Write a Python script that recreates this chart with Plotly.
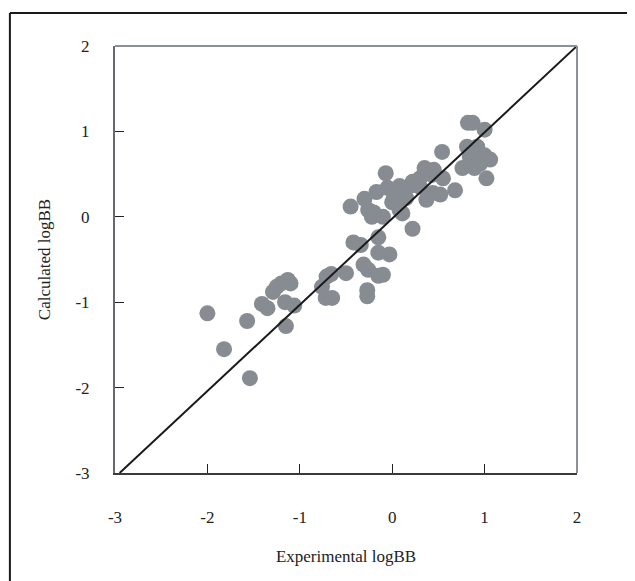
import plotly.graph_objects as go

# Experimental vs calculated logBB
exp_logbb = [
    -2.00, -1.82, -1.57, -1.54, -1.41, -1.35, -1.29, -1.25, -1.20, -1.13,
    -1.10, -1.16, -1.06, -1.15, -0.76, -0.71, -0.66, -0.50, -0.72, -0.65,
    -0.31, -0.26, -0.27, -0.27, -0.15, -0.10, -0.15, -0.03, -0.42, -0.34,
    -0.15, 0.22, -0.45, -0.30, -0.17, -0.05, 0.08, -0.07, -0.26, -0.22,
    -0.10, 0.00, 0.08, 0.11, 0.10, 0.22, 0.22, 0.30, 0.37, 0.44,
    0.52, 0.35, 0.43, 0.54, 0.68, 0.76, 0.89, 0.84, 0.81, 0.92,
    1.00, 1.06, 1.02, 0.82, 0.87, 1.00, -0.20, 0.02, 0.15, 0.45,
    0.30, 0.95, 0.85, 0.55,
]
calc_logbb = [
    -1.13, -1.55, -1.22, -1.89, -1.02, -1.07, -0.88, -0.82, -0.78, -0.74,
    -0.78, -1.00, -1.04, -1.28, -0.82, -0.70, -0.67, -0.66, -0.95, -0.95,
    -0.56, -0.62, -0.86, -0.93, -0.69, -0.68, -0.42, -0.44, -0.30, -0.33,
    -0.24, -0.14, 0.12, 0.21, 0.29, 0.34, 0.36, 0.51, 0.08, 0.00,
    0.00, 0.17, 0.08, 0.04, 0.30, 0.37, 0.41, 0.35, 0.20, 0.28,
    0.26, 0.57, 0.49, 0.76, 0.31, 0.57, 0.57, 0.70, 0.82, 0.82,
    0.72, 0.67, 0.45, 1.10, 1.10, 1.02, 0.05, 0.25, 0.22, 0.55,
    0.45, 0.62, 0.62, 0.45,
]

# reference line
line_x = [-2.95, 2.0]
line_y = [-3.0, 2.0]

tick_vals = [-3, -2, -1, 0, 1, 2]
tick_text = ["-3", "-2", "-1", "0", "1", "2"]

FONT = "Liberation Serif, Times New Roman, serif"

fig = go.Figure()
fig.add_trace(go.Scatter(
    x=exp_logbb, y=calc_logbb, mode="markers",
    marker=dict(size=16, color="#878c92", line=dict(width=0)),
    showlegend=False, hoverinfo="x+y",
))
fig.add_trace(go.Scatter(
    x=line_x, y=line_y, mode="lines",
    line=dict(color="#1a1a1a", width=2),
    showlegend=False, hoverinfo="skip",
))

axis_common = dict(
    tickmode="array", tickvals=tick_vals, ticktext=tick_text,
    ticks="inside", ticklen=9, tickwidth=1, tickcolor="#222",
    showgrid=False, zeroline=False, showline=True, linewidth=2,
    tickfont=dict(family=FONT, size=17, color="#222"),
    title_font=dict(family=FONT, size=17, color="#222"),
)

fig.update_layout(
    width=635, height=581,
    margin=dict(l=107, r=66, t=38, b=116),
    paper_bgcolor="white", plot_bgcolor="white",
    xaxis=dict(range=[-3, 2], linecolor="#3a3a3a",
               ticklabelstandoff=28,
               title=dict(text="Experimental logBB", standoff=24),
               **axis_common),
    yaxis=dict(range=[-3, 2], linecolor="#666a6e",
               ticklabelstandoff=20,
               title=dict(text="Calculated logBB", standoff=20),
               **axis_common),
    shapes=[
        # top and right plot border (lighter grey)
        dict(type="line", xref="paper", yref="paper", x0=0, y0=1, x1=1, y1=1,
             line=dict(color="#8c9197", width=2)),
        dict(type="line", xref="paper", yref="paper", x0=1, y0=0, x1=1, y1=1,
             line=dict(color="#8c9197", width=2)),
        # outer frame (left and top edges)
        dict(type="line", xref="paper", yref="paper",
             x0=-0.2275, y0=-0.6, x1=-0.2275, y1=1.0773,
             line=dict(color="#1a1a1a", width=2)),
        dict(type="line", xref="paper", yref="paper",
             x0=-0.2275, y0=1.0773, x1=1.5, y1=1.0773,
             line=dict(color="#1a1a1a", width=2)),
    ],
)

fig.write_html("out.html")
